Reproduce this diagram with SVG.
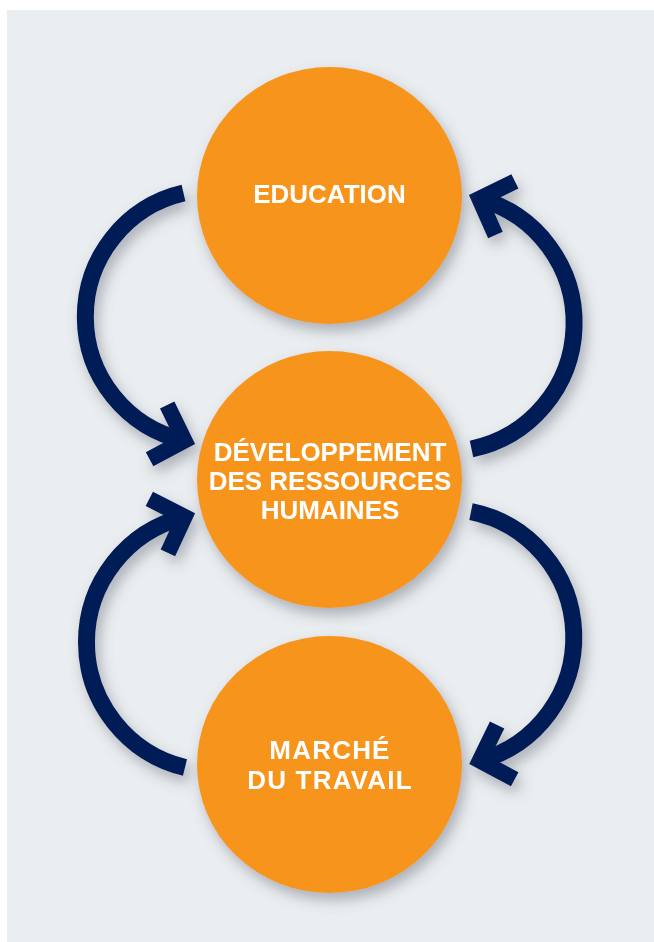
<svg xmlns="http://www.w3.org/2000/svg" xmlns:xlink="http://www.w3.org/1999/xlink" width="654" height="942" viewBox="0 0 654 942">
  <style>
    .node { fill: #f7941e; filter: url(#shadow); }
    .label { font-family: "Liberation Sans", Arial, sans-serif; font-weight: bold; font-size: 26px; fill: #ffffff; text-anchor: middle; }
    .arc { fill: none; stroke: #001a57; stroke-width: 17; stroke-linecap: butt; }
    .head { fill: none; stroke: #001a57; stroke-width: 16; stroke-linejoin: miter; stroke-miterlimit: 10; stroke-linecap: butt; }
  </style>
  <defs>
    <filter id="shadow" x="-30%" y="-30%" width="160%" height="160%">
      <feDropShadow dx="4" dy="7" stdDeviation="7" flood-color="#5b6472" flood-opacity="0.45"/>
    </filter>
    <path id="chevron" d="M-38.5,-28.5 L-11,0 L-38.5,28.5"/>
  </defs>
  <rect x="0" y="0" width="654" height="942" fill="#ffffff"/>
  <rect x="7" y="10" width="647" height="932" fill="#ebeef0"/>

  <g id="connectors" filter="url(#shadow)">
    <g id="edu-to-drh">
      <path class="arc" d="M183.5,193 A127,127 0 0 0 184.5,440.6"/>
      <use xlink:href="#chevron" href="#chevron" class="head" transform="translate(195,444) rotate(18)"/>
    </g>
    <g id="drh-to-edu">
      <path class="arc" d="M471.5,449 A128.7,128.7 0 0 0 479.3,198.8"/>
      <use xlink:href="#chevron" href="#chevron" class="head" transform="translate(469,195) rotate(200)"/>
    </g>
    <g id="drh-to-marche">
      <path class="arc" d="M471,511.7 A128,128 0 0 1 479.8,760.6"/>
      <use xlink:href="#chevron" href="#chevron" class="head" transform="translate(469.3,764) rotate(162)"/>
    </g>
    <g id="marche-to-drh">
      <path class="arc" d="M185,767.5 A129,129 0 0 1 184.6,516.9"/>
      <use xlink:href="#chevron" href="#chevron" class="head" transform="translate(195,513.3) rotate(-19)"/>
    </g>
  </g>

  <g id="education">
    <ellipse class="node" cx="329.5" cy="195.5" rx="132.5" ry="128.5"/>
    <text class="label" x="329.5" y="203">EDUCATION</text>
  </g>

  <g id="drh">
    <ellipse class="node" cx="329.5" cy="479.5" rx="132.5" ry="128.5"/>
    <text class="label" x="330" y="461">DÉVELOPPEMENT</text>
    <text class="label" x="330" y="490">DES RESSOURCES</text>
    <text class="label" x="330" y="519">HUMAINES</text>
  </g>

  <g id="marche">
    <ellipse class="node" cx="329.5" cy="764.5" rx="132.5" ry="128.5"/>
    <text class="label" x="330" y="759" letter-spacing="1.2">MARCHÉ</text>
    <text class="label" x="330" y="789" letter-spacing="1.2">DU TRAVAIL</text>
  </g>
</svg>
